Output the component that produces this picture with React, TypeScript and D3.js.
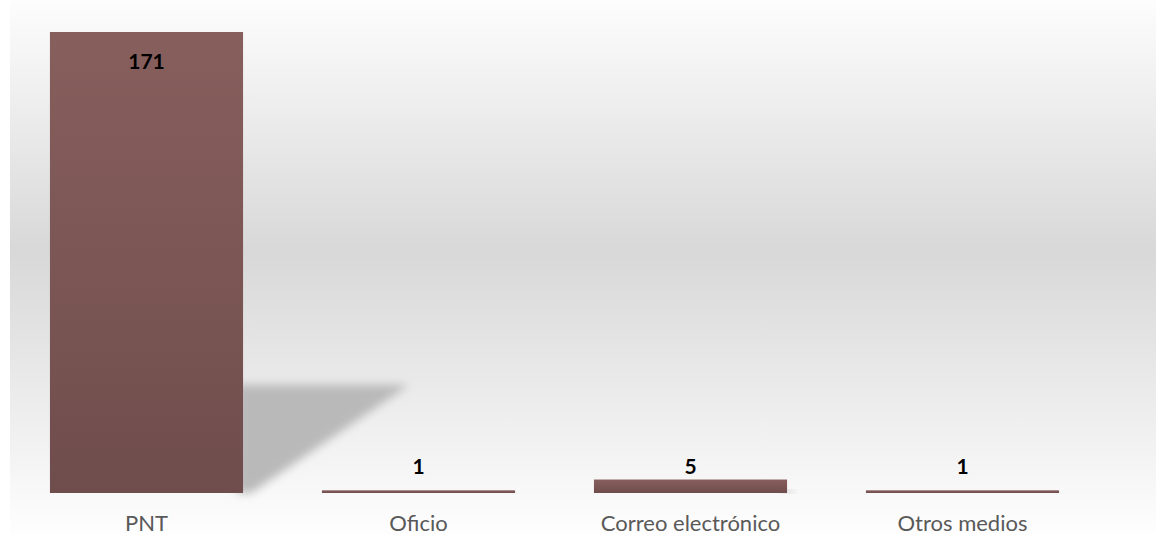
import React, { useEffect, useRef } from 'react';
import * as d3 from 'd3';

const categories = ['PNT', 'Oficio', 'Correo electrónico', 'Otros medios'];
const values = [171, 1, 5, 1];

const W = 1156;
const H = 535;
const FONT = "Lato, 'Open Sans', sans-serif";

export default function App() {
  const svgRef = useRef<SVGSVGElement>(null);

  useEffect(() => {
    if (!svgRef.current) return;
    const svg = d3.select(svgRef.current);
    svg.selectAll('*').remove();

    const left = 10;
    const baseline = 493;
    const top = 32;

    const x = d3.scaleBand<string>()
      .domain(categories)
      .range([left + 0.5, left + 0.5 + 272 * categories.length])
      .paddingInner(0.29)
      .paddingOuter(0.145);
    const y = d3.scaleLinear().domain([0, d3.max(values)!]).range([baseline, top]);

    const defs = svg.append('defs');
    const bg = defs.append('linearGradient').attr('id', 'bg')
      .attr('x1', 0).attr('y1', 0).attr('x2', 0).attr('y2', 1);
    bg.append('stop').attr('offset', '0%').attr('stop-color', '#fdfdfd');
    bg.append('stop').attr('offset', '47%').attr('stop-color', '#d8d8d8');
    bg.append('stop').attr('offset', '100%').attr('stop-color', '#fefefe');

    const bar = defs.append('linearGradient').attr('id', 'bar')
      .attr('x1', 0).attr('y1', 0).attr('x2', 0).attr('y2', 1);
    bar.append('stop').attr('offset', '0%').attr('stop-color', '#875f5d');
    bar.append('stop').attr('offset', '100%').attr('stop-color', '#6f4d4c');

    const blur = defs.append('filter').attr('id', 'blur')
      .attr('x', '-20%').attr('y', '-20%').attr('width', '140%').attr('height', '140%');
    blur.append('feGaussianBlur').attr('stdDeviation', 5);

    svg.append('rect')
      .attr('x', left).attr('y', 0)
      .attr('width', W - left).attr('height', H)
      .attr('fill', 'url(#bg)');

    // perspective shadows behind the bars
    svg.append('g').selectAll('path')
      .data(values)
      .join('path')
      .attr('d', (d, i) => {
        const x1 = x(categories[i])! + x.bandwidth();
        const h = baseline - y(d);
        const sh = h * 0.235;
        const sw = h * 0.36;
        return `M${x1 - 6},${baseline} L${x1 - 6},${baseline - sh} L${x1 + sw},${baseline - sh} L${x1 + 8},${baseline} Z`;
      })
      .attr('fill', '#b9b9b9')
      .attr('filter', 'url(#blur)');

    svg.append('g').selectAll('rect')
      .data(values)
      .join('rect')
      .attr('x', (_, i) => x(categories[i])!)
      .attr('y', d => y(d))
      .attr('width', x.bandwidth())
      .attr('height', d => baseline - y(d))
      .attr('fill', 'url(#bar)');

    // labels sit above short bars, inside the end of tall ones
    svg.append('g').selectAll('text')
      .data(values)
      .join('text')
      .attr('x', (_, i) => x(categories[i])! + x.bandwidth() / 2)
      .attr('y', d => (y(d) < baseline - 40 ? y(d) + 37 : baseline - 19))
      .attr('text-anchor', 'middle')
      .attr('font-family', FONT)
      .attr('font-weight', 'bold')
      .attr('font-size', 21)
      .attr('fill', '#000')
      .text(d => d);

    svg.append('g').selectAll('text')
      .data(categories)
      .join('text')
      .attr('x', d => x(d)! + x.bandwidth() / 2)
      .attr('y', 531)
      .attr('text-anchor', 'middle')
      .attr('font-family', FONT)
      .attr('font-size', 22)
      .attr('fill', '#595959')
      .text(d => d);
  }, []);

  return (
    <svg
      ref={svgRef}
      width={W}
      height={H}
      style={{ position: 'absolute', left: 0, top: 0, background: '#fff' }}
    />
  );
}
